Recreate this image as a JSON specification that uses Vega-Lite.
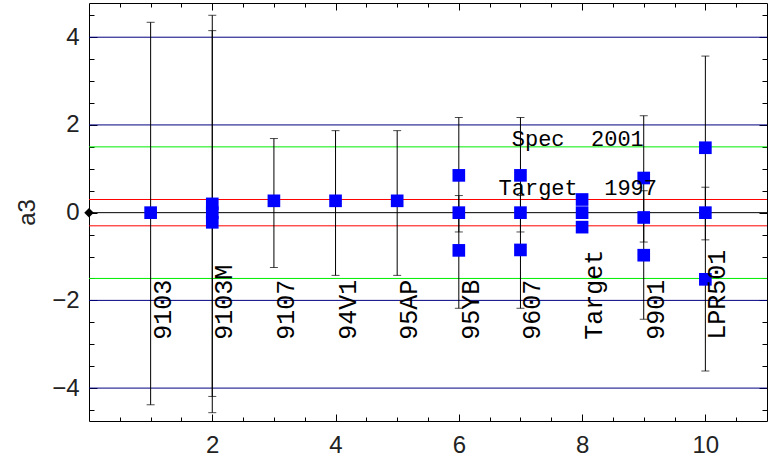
{
  "$schema": "https://vega.github.io/schema/vega-lite/v6.json",
  "width": 678,
  "height": 418,
  "autosize": {"type": "none"},
  "padding": {"left": 89, "top": 3, "right": 1, "bottom": 36},
  "background": "white",
  "config": {
    "view": {"stroke": "#000000", "strokeWidth": 1},
    "axis": {
      "grid": false,
      "labelFont": "Liberation Sans",
      "labelFontSize": 24,
      "labelColor": "#222222",
      "titleFont": "Liberation Sans",
      "titleFontSize": 24,
      "titleFontWeight": "normal",
      "titleColor": "#222222",
      "tickColor": "#000000",
      "tickWidth": 1
    }
  },
  "resolve": {"axis": {"x": "independent", "y": "independent"}},
  "layer": [
    {
      "data": {"values": [
        {"y": 4, "c": "#000080"},
        {"y": 2, "c": "#000080"},
        {"y": 1.5, "c": "#00ee00"},
        {"y": 0.3, "c": "#ff0000"},
        {"y": 0, "c": "#000000"},
        {"y": -0.3, "c": "#ff0000"},
        {"y": -1.5, "c": "#00ee00"},
        {"y": -2, "c": "#000080"},
        {"y": -4, "c": "#000080"}
      ]},
      "mark": {"type": "rule", "strokeWidth": 1},
      "encoding": {
        "y": {"field": "y", "type": "quantitative",
          "scale": {"domain": [-4.75, 4.78], "nice": false, "zero": false},
          "axis": {"orient": "left", "values": [-4, -2, 0, 2, 4], "ticks": false, "domain": false, "labelPadding": 10, "title": "a3", "titlePadding": 12}},
        "color": {"field": "c", "type": "nominal", "scale": null}
      }
    },
    {
      "data": {"name": "err", "values": [
        {"x": 1, "lo": -4.38, "hi": 4.34},
        {"x": 2, "lo": -4.19, "hi": 4.5},
        {"x": 2, "lo": -4.56, "hi": 4.15},
        {"x": 3, "lo": -1.25, "hi": 1.69},
        {"x": 4, "lo": -1.43, "hi": 1.87},
        {"x": 5, "lo": -1.43, "hi": 1.87},
        {"x": 6, "lo": -0.44, "hi": 2.17},
        {"x": 6, "lo": -2.18, "hi": 0.39},
        {"x": 7, "lo": -0.44, "hi": 2.17},
        {"x": 7, "lo": -2.18, "hi": 0.39},
        {"x": 9, "lo": -0.67, "hi": 2.21},
        {"x": 9, "lo": -2.43, "hi": 0.5},
        {"x": 10, "lo": -0.62, "hi": 3.57},
        {"x": 10, "lo": -3.61, "hi": 0.58}
      ]},
      "mark": {"type": "rule", "color": "#000000", "strokeWidth": 1},
      "encoding": {
        "x": {"field": "x", "type": "quantitative",
          "scale": {"domain": [0, 11], "nice": false, "zero": false},
          "axis": {"orient": "bottom", "values": [2, 4, 6, 8, 10], "ticks": false, "domain": false, "labelPadding": 12, "title": null}},
        "y": {"field": "lo", "type": "quantitative",
          "scale": {"domain": [-4.75, 4.78], "nice": false, "zero": false},
          "axis": {"orient": "left", "values": [-4.5, -4, -3.5, -3, -2.5, -2, -1.5, -1, -0.5, 0, 0.5, 1, 1.5, 2, 2.5, 3, 3.5, 4, 4.5], "labels": false, "domain": false, "tickSize": -5, "title": null}},
        "y2": {"field": "hi"}
      }
    },
    {
      "data": {"name": "err"},
      "mark": {"type": "tick", "orient": "horizontal", "size": 8, "thickness": 1, "color": "#000000"},
      "encoding": {
        "x": {"field": "x", "type": "quantitative",
          "scale": {"domain": [0, 11], "nice": false, "zero": false},
          "axis": {"orient": "bottom", "values": [0.5, 1, 1.5, 2, 2.5, 3, 3.5, 4, 4.5, 5, 5.5, 6, 6.5, 7, 7.5, 8, 8.5, 9, 9.5, 10, 10.5], "labels": false, "domain": false, "tickSize": -4, "title": null}},
        "y": {"field": "lo", "type": "quantitative",
          "scale": {"domain": [-4.75, 4.78], "nice": false, "zero": false},
          "axis": {"orient": "right", "values": [-4.5, -4, -3.5, -3, -2.5, -2, -1.5, -1, -0.5, 0, 0.5, 1, 1.5, 2, 2.5, 3, 3.5, 4, 4.5], "labels": false, "domain": false, "tickSize": -5, "title": null}}
      }
    },
    {
      "data": {"name": "err"},
      "mark": {"type": "tick", "orient": "horizontal", "size": 8, "thickness": 1, "color": "#000000"},
      "encoding": {
        "x": {"field": "x", "type": "quantitative",
          "scale": {"domain": [0, 11], "nice": false, "zero": false},
          "axis": {"orient": "top", "values": [0.5, 1, 1.5, 2, 2.5, 3, 3.5, 4, 4.5, 5, 5.5, 6, 6.5, 7, 7.5, 8, 8.5, 9, 9.5, 10, 10.5], "labels": false, "domain": false, "tickSize": -4, "title": null}},
        "y": {"field": "hi", "type": "quantitative",
          "scale": {"domain": [-4.75, 4.78], "nice": false, "zero": false},
          "axis": null}
      }
    },
    {
      "data": {"values": [
        {"x": 1, "y": 0},
        {"x": 2, "y": 0.2}, {"x": 2, "y": 0}, {"x": 2, "y": -0.22},
        {"x": 3, "y": 0.27},
        {"x": 4, "y": 0.27},
        {"x": 5, "y": 0.27},
        {"x": 6, "y": 0.85}, {"x": 6, "y": 0}, {"x": 6, "y": -0.86},
        {"x": 7, "y": 0.85}, {"x": 7, "y": 0}, {"x": 7, "y": -0.85},
        {"x": 8, "y": 0.3}, {"x": 8, "y": 0}, {"x": 8, "y": -0.33},
        {"x": 9, "y": 0.79}, {"x": 9, "y": -0.11}, {"x": 9, "y": -0.97},
        {"x": 10, "y": 1.48}, {"x": 10, "y": 0}, {"x": 10, "y": -1.52}
      ]},
      "mark": {"type": "point", "shape": "square", "filled": true, "size": 160, "color": "#0000ff", "opacity": 1, "strokeWidth": 0},
      "encoding": {
        "x": {"field": "x", "type": "quantitative",
          "scale": {"domain": [0, 11], "nice": false, "zero": false},
          "axis": {"orient": "bottom", "values": [2, 4, 6, 8, 10], "labels": false, "domain": false, "tickSize": -7, "title": null}},
        "y": {"field": "y", "type": "quantitative",
          "scale": {"domain": [-4.75, 4.78], "nice": false, "zero": false},
          "axis": {"orient": "left", "values": [-4, -2, 0, 2, 4], "labels": false, "domain": false, "tickSize": -8, "title": null}}
      }
    },
    {
      "data": {"values": [
        {"x": 1, "y": -2.9, "t": "9103"},
        {"x": 2, "y": -2.9, "t": "9103M"},
        {"x": 3, "y": -2.9, "t": "9107"},
        {"x": 4, "y": -2.9, "t": "94V1"},
        {"x": 5, "y": -2.9, "t": "95AP"},
        {"x": 6, "y": -2.9, "t": "95YB"},
        {"x": 7, "y": -2.9, "t": "9607"},
        {"x": 8, "y": -2.9, "t": "Target"},
        {"x": 9, "y": -2.9, "t": "9901"},
        {"x": 10, "y": -2.9, "t": "LPR501"}
      ]},
      "mark": {"type": "text", "angle": 270, "align": "left", "baseline": "middle", "dy": 12, "font": "Liberation Mono", "fontSize": 25, "color": "#000000"},
      "encoding": {
        "x": {"field": "x", "type": "quantitative",
          "scale": {"domain": [0, 11], "nice": false, "zero": false},
          "axis": {"orient": "top", "values": [2, 4, 6, 8, 10], "labels": false, "domain": false, "tickSize": -7, "title": null}},
        "y": {"field": "y", "type": "quantitative",
          "scale": {"domain": [-4.75, 4.78], "nice": false, "zero": false},
          "axis": {"orient": "right", "values": [-4, -2, 0, 2, 4], "labels": false, "domain": false, "tickSize": -8, "title": null}},
        "text": {"field": "t"}
      }
    },
    {
      "data": {"values": [
        {"x": 7.93, "y": 1.51, "t": "Spec\u00a0\u00a02001"},
        {"x": 7.93, "y": 0.4, "t": "Target\u00a0\u00a01997"}
      ]},
      "mark": {"type": "text", "align": "center", "baseline": "alphabetic", "font": "Liberation Mono", "fontSize": 22, "color": "#000000"},
      "encoding": {
        "x": {"field": "x", "type": "quantitative",
          "scale": {"domain": [0, 11], "nice": false, "zero": false}, "axis": null},
        "y": {"field": "y", "type": "quantitative",
          "scale": {"domain": [-4.75, 4.78], "nice": false, "zero": false}, "axis": null},
        "text": {"field": "t"}
      }
    },
    {
      "data": {"values": [{"x": 0, "y": 0}]},
      "mark": {"type": "point", "shape": "diamond", "filled": true, "size": 90, "color": "#000000", "opacity": 1},
      "encoding": {
        "x": {"field": "x", "type": "quantitative",
          "scale": {"domain": [0, 11], "nice": false, "zero": false}, "axis": null},
        "y": {"field": "y", "type": "quantitative",
          "scale": {"domain": [-4.75, 4.78], "nice": false, "zero": false}, "axis": null}
      }
    }
  ]
}
